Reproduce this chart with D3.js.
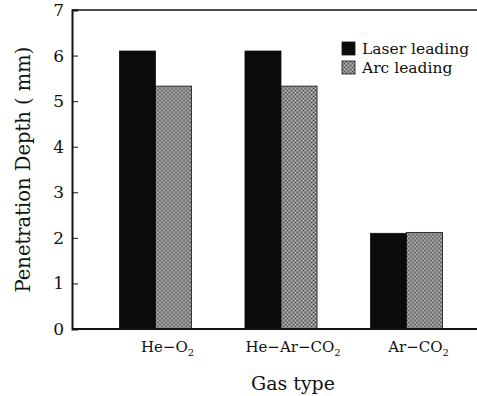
<!DOCTYPE html>
<html>
<head>
<meta charset="utf-8">
<script src="https://cdn.jsdelivr.net/npm/d3@7"></script>
<style>
  body { margin: 0; background: #fff; }
  text { font-family: "DejaVu Serif", "Liberation Serif", serif; fill: #111; }
</style>
</head>
<body>
<script>
// data
var gases = ["He−O2", "He−Ar−CO2", "Ar−CO2"];
var series = ["Laser leading", "Arc leading"];
var laserLeading = [6.1, 6.1, 2.1];
var arcLeading = [5.33, 5.33, 2.12];
var yTicks = [0, 1, 2, 3, 4, 5, 6, 7];

var W = 477, H = 396;
var margin = { top: 10, left: 72, bottom: 67 };
var plotBottom = H - margin.bottom;

var svg = d3.select("body").append("svg")
    .attr("width", W)
    .attr("height", H);

// halftone-ish fill for the grey bars
var defs = svg.append("defs");
var pat = defs.append("pattern")
    .attr("id", "grey")
    .attr("patternUnits", "userSpaceOnUse")
    .attr("width", 4).attr("height", 4);
pat.append("rect").attr("width", 4).attr("height", 4).attr("fill", "#8a8a8a");
pat.append("rect").attr("width", 1).attr("height", 1).attr("fill", "#4a4a4a");
pat.append("rect").attr("x", 2).attr("y", 2).attr("width", 1).attr("height", 1).attr("fill", "#4a4a4a");
pat.append("rect").attr("x", 2).attr("y", 0).attr("width", 1).attr("height", 1).attr("fill", "#c0c0c0");
pat.append("rect").attr("x", 0).attr("y", 2).attr("width", 1).attr("height", 1).attr("fill", "#c0c0c0");

var fills = ["#0b0b0b", "url(#grey)"];

// scales
var x0 = d3.scaleBand()
    .domain(gases)
    .range([margin.left, 490])
    .paddingInner(0.426)
    .paddingOuter(0.378);

var x1 = d3.scaleBand()
    .domain(series)
    .range([0, x0.bandwidth()]);

var y = d3.scaleLinear()
    .domain([0, 7])
    .range([plotBottom, margin.top]);

var rows = gases.map(function (g, i) {
    return { gas: g, values: [laserLeading[i], arcLeading[i]] };
});

// bars
var groups = svg.append("g").selectAll("g")
    .data(rows)
    .enter().append("g")
    .attr("transform", function (d) { return "translate(" + x0(d.gas) + ",0)"; });

groups.selectAll("rect")
    .data(function (d) { return d.values.map(function (v, j) { return { s: series[j], v: v, j: j }; }); })
    .enter().append("rect")
    .attr("x", function (d) { return x1(d.s); })
    .attr("y", function (d) { return y(d.v); })
    .attr("width", x1.bandwidth())
    .attr("height", function (d) { return plotBottom - y(d.v); })
    .attr("fill", function (d) { return fills[d.j]; })
    .attr("stroke", "#111")
    .attr("stroke-width", 0.8);

// frame lines (top and bottom run to the edge)
svg.append("line")
    .attr("x1", margin.left).attr("x2", W)
    .attr("y1", y(7)).attr("y2", y(7))
    .attr("stroke", "#111").attr("stroke-width", 1.5);
svg.append("line")
    .attr("x1", margin.left).attr("x2", W)
    .attr("y1", plotBottom).attr("y2", plotBottom)
    .attr("stroke", "#111").attr("stroke-width", 2);

// y axis, ticks pointing inward
var yAxis = svg.append("g")
    .attr("transform", "translate(" + margin.left + ",0)")
    .call(d3.axisLeft(y).tickValues(yTicks).tickSize(-6).tickPadding(8).tickFormat(d3.format("d")));
yAxis.select(".domain").attr("stroke", "#111").attr("stroke-width", 2);
yAxis.selectAll(".tick line").attr("stroke", "#111");
yAxis.selectAll("text")
    .attr("font-family", "DejaVu Serif")
    .attr("font-size", 17)
    .attr("fill", "#111");

// x axis labels with subscripts
var xAxis = svg.append("g")
    .attr("transform", "translate(0," + plotBottom + ")")
    .call(d3.axisBottom(x0).tickSize(0).tickPadding(0));
xAxis.select(".domain").remove();
xAxis.selectAll("text").each(function (d) {
    var t = d3.select(this).text(null)
        .attr("font-family", "DejaVu Serif")
        .attr("font-size", 15)
        .attr("fill", "#111")
        .attr("dy", null)
        .attr("y", 23)
        .attr("x", 12);
    var m = d.match(/^(.*?)(\d)$/);
    t.append("tspan").text(m ? m[1] : d);
    if (m) t.append("tspan").attr("font-size", 10).attr("dy", 4).text(m[2]);
});

// axis titles
svg.append("text")
    .attr("transform", "translate(30," + ((margin.top + plotBottom) / 2) + ") rotate(-90)")
    .attr("text-anchor", "middle")
    .attr("font-size", 19.5)
    .text("Penetration Depth ( mm)");

svg.append("text")
    .attr("x", 293)
    .attr("y", 390)
    .attr("text-anchor", "middle")
    .attr("font-size", 19)
    .text("Gas type");

// legend
var legend = svg.append("g")
    .attr("transform", "translate(342,42)");
var li = legend.selectAll("g")
    .data(series)
    .enter().append("g")
    .attr("transform", function (d, i) { return "translate(0," + i * 19 + ")"; });
li.append("rect")
    .attr("width", 13).attr("height", 13)
    .attr("fill", function (d, i) { return fills[i]; })
    .attr("stroke", "#111").attr("stroke-width", 0.8);
li.append("text")
    .attr("x", 20).attr("y", 12)
    .attr("font-size", 15.5)
    .text(function (d) { return d; });
</script>
</body>
</html>
